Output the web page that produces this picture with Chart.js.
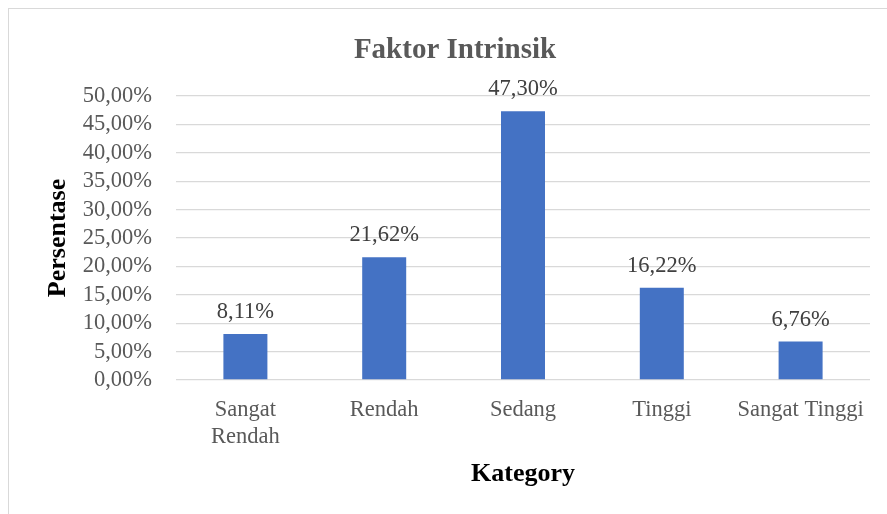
<!DOCTYPE html>
<html>
<head>
<meta charset="utf-8">
<script src="https://cdn.jsdelivr.net/npm/chart.js@4.4.0/dist/chart.umd.min.js"></script>
<style>
  html, body { margin: 0; padding: 0; background: #fff; overflow: hidden; }
  #wrap { position: relative; width: 887px; height: 514px; }
  #frame { position: absolute; left: 8px; top: 8px; width: 2000px; height: 2000px;
           border-left: 1.5px solid #d9d9d9; border-top: 1.5px solid #d9d9d9; }
  canvas { position: absolute; left: 0; top: 0; }
</style>
</head>
<body>
<div id="wrap">
  <div id="frame"></div>
  <canvas id="c" width="887" height="514"></canvas>
</div>
<script>
const categories = [['Sangat', 'Rendah'], 'Rendah', 'Sedang', 'Tinggi', 'Sangat Tinggi'];
const values = [8.11, 21.62, 47.30, 16.22, 6.76];
const chartTitle = 'Faktor Intrinsik';
const xTitle = 'Kategory';
const yTitle = 'Persentase';
const yMin = 0, yMax = 50, yStep = 5;

const FONT = "'Liberation Serif', 'Times New Roman', serif";
const fmt = v => v.toFixed(2).replace('.', ',') + '%';

const dataLabels = {
  id: 'dataLabels',
  afterDatasetsDraw(chart) {
    const ctx = chart.ctx;
    const meta = chart.getDatasetMeta(0);
    ctx.save();
    ctx.font = '22.5px ' + FONT;
    ctx.fillStyle = '#404040';
    ctx.textAlign = 'center';
    ctx.textBaseline = 'middle';
    meta.data.forEach((bar, i) => {
      ctx.fillText(fmt(values[i]), bar.x, bar.y - 22);
    });
    ctx.restore();
  }
};

new Chart(document.getElementById('c'), {
  type: 'bar',
  data: {
    labels: categories,
    datasets: [{
      data: values,
      backgroundColor: '#4472C4',
      borderWidth: 0,
      categoryPercentage: 1,
      barPercentage: 0.317
    }]
  },
  options: {
    responsive: false,
    animation: false,
    devicePixelRatio: 1,
    layout: { padding: { left: 40, right: 17, top: 0, bottom: 0 } },
    plugins: {
      legend: { display: false },
      tooltip: { enabled: false },
      title: {
        display: true,
        text: chartTitle,
        color: '#595959',
        font: { family: FONT, size: 29, weight: 'bold', lineHeight: 1.2 },
        padding: { top: 33.6, bottom: 27.6 }
      }
    },
    scales: {
      x: {
        grid: { display: false },
        border: { display: false },
        ticks: {
          color: '#595959',
          font: { family: FONT, size: 22.5, lineHeight: 1.2 },
          padding: 8.5,
          maxRotation: 0,
          minRotation: 0,
          autoSkip: false
        },
        title: {
          display: true,
          text: xTitle,
          color: '#000',
          font: { family: FONT, size: 26, weight: 'bold', lineHeight: 1.2 },
          padding: { top: 0, bottom: 24 }
        },
        afterFit(scale) { scale.height = 134; }
      },
      y: {
        min: yMin,
        max: yMax,
        grid: { color: '#d9d9d9', lineWidth: 1.3, drawTicks: false },
        border: { display: false },
        ticks: {
          stepSize: yStep,
          autoSkip: false,
          color: '#595959',
          font: { family: FONT, size: 22.5, lineHeight: 1.2 },
          padding: 24,
          callback: v => fmt(v)
        },
        title: {
          display: true,
          text: yTitle,
          color: '#000',
          font: { family: FONT, size: 26, weight: 'bold', lineHeight: 1.2 },
          padding: { top: 2.4, bottom: 0 }
        },
        afterFit(scale) { scale.width = 136; }
      }
    }
  },
  plugins: [dataLabels]
});
</script>
</body>
</html>
